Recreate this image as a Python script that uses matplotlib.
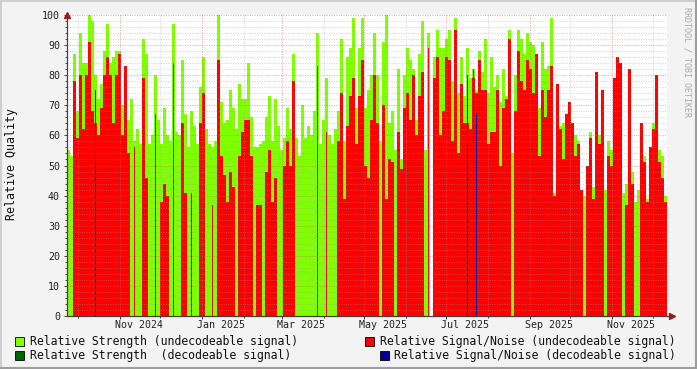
"""
rrdtool style chart of relative signal quality
"""
from datetime import datetime

import matplotlib
matplotlib.use("Agg")
import matplotlib.dates as mdates
import matplotlib.pyplot as plt
import matplotlib.transforms as mtransforms
import numpy as np
from matplotlib.lines import Line2D
from matplotlib.patches import Rectangle
from matplotlib.ticker import MultipleLocator, NullFormatter

# relative strength / signal-noise of undecodeable signal, one value per slot
strength = [
    55, 53, 87, 68, 94, 84, 84, 100, 98, 80, 72, 77, 88, 97, 84, 86, 88, 88, 70, 75,
    65, 72, 58, 62, 57, 92, 87, 57, 60, 80, 65, 57, 69, 60, 58, 97, 61, 60, 85, 67,
    56, 68, 63, 57, 76, 86, 62, 57, 56, 58, 100, 71, 64, 65, 75, 69, 62, 77, 72, 72,
    84, 66, 56, 56, 57, 58, 66, 73, 58, 72, 63, 55, 59, 69, 62, 87, 59, 53, 70, 59,
    63, 60, 68, 94, 57, 65, 79, 60, 57, 62, 68, 92, 58, 86, 89, 99, 69, 89, 99, 69,
    75, 80, 94, 80, 58, 91, 100, 64, 68, 55, 82, 52, 80, 89, 85, 82, 65, 87, 98, 55,
    94, 0, 86, 95, 89, 89, 92, 95, 78, 99, 74, 86, 73, 89, 79, 82, 75, 88, 81, 92,
    74, 86, 76, 80, 71, 82, 73, 95, 54, 80, 95, 92, 87, 94, 91, 90, 80, 69, 91, 82,
    83, 99, 41, 42, 63, 64, 58, 52, 61, 60, 58, 40, 40, 44, 61, 43, 65, 60, 62, 42,
    58, 55, 44, 44, 58, 41, 44, 44, 48, 38, 42, 38, 53, 39, 44, 64, 38, 55, 53, 40,
]
snr = [
    0, 0, 78, 59, 80, 62, 80, 91, 68, 64, 60, 69, 80, 86, 80, 64, 80, 87, 60, 83,
    54, 0, 56, 0, 0, 79, 46, 0, 0, 67, 0, 38, 44, 40, 0, 84, 0, 0, 64, 41,
    0, 41, 0, 0, 64, 74, 0, 0, 37, 0, 85, 53, 47, 38, 48, 43, 0, 53, 61, 65,
    65, 53, 0, 37, 37, 0, 48, 55, 38, 46, 0, 0, 50, 58, 50, 78, 0, 0, 0, 0,
    0, 0, 0, 83, 0, 0, 61, 0, 0, 0, 58, 74, 39, 63, 73, 79, 57, 73, 85, 50,
    46, 65, 80, 64, 0, 70, 39, 52, 51, 0, 61, 49, 69, 74, 65, 80, 60, 73, 81, 0,
    89, 0, 79, 86, 60, 68, 86, 85, 58, 95, 54, 77, 64, 64, 62, 79, 74, 85, 75, 75,
    57, 61, 61, 75, 50, 69, 72, 92, 0, 68, 88, 78, 75, 85, 82, 74, 87, 53, 75, 66,
    75, 83, 40, 77, 62, 52, 67, 71, 64, 53, 57, 42, 0, 50, 59, 39, 81, 57, 75, 0,
    53, 50, 79, 86, 84, 0, 37, 82, 44, 0, 0, 64, 51, 38, 56, 62, 80, 51, 46, 38,
]

# decodeable signal (only a few slots)
dec_slots = [9, 133, 135, 136]
dec_strength = [75, 80, 82, 0]
dec_snr = [51, 57, 0, 67]

tick_labels = ["Nov 2024", "Jan 2025", "Mar 2025", "May 2025",
               "Jul 2025", "Sep 2025", "Nov 2025"]
tick_dates = [datetime(2024, 11, 1), datetime(2025, 1, 1), datetime(2025, 3, 1),
              datetime(2025, 5, 1), datetime(2025, 7, 1), datetime(2025, 9, 1),
              datetime(2025, 11, 1)]

legend_items = [
    ("Relative Strength (undecodeable signal)", "#7fff00"),
    ("Relative Signal/Noise (undecodeable signal)", "#ff0000"),
    ("Relative Strength  (decodeable signal)", "#006400"),
    ("Relative Signal/Noise (decodeable signal)", "#000099"),
]

W, H = 697, 369
START = datetime(2024, 9, 22, 16)
SPAN_DAYS = 445.0

plt.rcParams["font.family"] = ["DejaVu Sans Mono"]

fig = plt.figure(figsize=(W / 100, H / 100), dpi=100, facecolor="#f3f3f3")
ax = fig.add_axes([67 / W, 1 - 316 / H, 600 / W, 301 / H])
ax.set_facecolor("white")

slot = SPAN_DAYS / len(strength)
x0 = mdates.date2num(START) + np.arange(len(strength)) * slot

# isolated red spikes are thin in the original, runs of red are solid
red = np.array(snr)
prev_red = np.r_[0, red[:-1]]
next_red = np.r_[red[1:], 0]
lone = (prev_red == 0) & (next_red == 0)
red_w = np.where(lone, slot / 2, slot)
red_x = x0 + (slot - red_w) / 2

# Draw Plot
ax.bar(x0, strength, width=slot, align="edge", color="#7fff00",
       linewidth=0, antialiased=False, zorder=1)
ax.bar(red_x, snr, width=red_w, align="edge", color="#ff0000",
       linewidth=0, antialiased=False, zorder=1.1)
dx = x0[dec_slots] + slot / 3
ax.bar(dx, dec_strength, width=slot / 3, align="edge", color="#006400",
       linewidth=0, antialiased=False, zorder=1.2)
ax.bar(dx, dec_snr, width=slot / 3, align="edge", color="#000099",
       linewidth=0, antialiased=False, zorder=1.3)

ax.set_xlim(mdates.date2num(START), mdates.date2num(START) + SPAN_DAYS)
ax.set_ylim(0, 100)

# Decoration
ax.yaxis.set_major_locator(MultipleLocator(10))
ax.yaxis.set_minor_locator(MultipleLocator(2))
ax.xaxis.set_major_locator(mdates.MonthLocator(bymonth=[1, 3, 5, 7, 9, 11]))
ax.xaxis.set_minor_locator(mdates.MonthLocator())
ax.xaxis.set_major_formatter(NullFormatter())

ax.set_axisbelow(False)
dots = (0, (1.0, 1.4))
ax.grid(which="minor", color="#a0a0a0", alpha=0.45, linestyle=dots, linewidth=0.72)
ax.grid(which="major", color="#d06060", alpha=0.55, linestyle=dots, linewidth=0.72)

for side in ("top", "right"):
    ax.spines[side].set_visible(False)
for side in ("left", "bottom"):
    ax.spines[side].set_color("#404040")
    ax.spines[side].set_linewidth(0.9)
ax.tick_params(which="both", direction="out", color="#404040", width=0.7)
ax.tick_params(which="major", length=2.5, pad=2.5, labelsize=7.2, labelcolor="#222222")
ax.tick_params(which="minor", length=1.2)

trans = mtransforms.blended_transform_factory(ax.transData, ax.transAxes)
for label, date in zip(tick_labels, tick_dates):
    mid = mdates.date2num(date) + 14
    ax.text(mid, -9 / 301, label, transform=trans, ha="center", va="center",
            fontsize=7.2, color="#222222")

# axis arrows
ax.plot([0], [1.0], transform=ax.transAxes, marker="^", markersize=4,
        color="#902020", clip_on=False, zorder=5)
ax.plot([1.0 + 5 / 600], [0], transform=ax.transAxes, marker=">",
        markersize=4, color="#902020", clip_on=False, zorder=5)
ax.plot([1.0, 1.0 + 5 / 600], [0, 0], transform=ax.transAxes, color="#404040",
        linewidth=0.9, clip_on=False)

fig.text(12 / W, 1 - 164 / H, "Relative Quality", rotation=90, ha="center",
         va="center", fontsize=8.4, color="#111111")
fig.text(687 / W, 1 - 62 / H, "RRDTOOL / TOBI OETIKER", rotation=270,
         ha="center", va="center", fontsize=6, color="#aaaaaa")

# legend
positions = [(15, 30, 341), (365, 380, 341), (15, 30, 355), (380, 394, 355)]
for (label, color), (sx, tx, ty) in zip(legend_items, positions):
    fig.add_artist(Rectangle((sx / W, 1 - (ty + 4.5) / H), 9 / W, 9 / H,
                             transform=fig.transFigure, facecolor=color,
                             edgecolor="black", linewidth=0.6))
    fig.text(tx / W, 1 - ty / H, label, ha="left", va="center",
             fontsize=8.3, color="#111111")

# shaded border
fig.add_artist(Line2D([0, 1], [1 - 1 / H, 1 - 1 / H], transform=fig.transFigure,
                      color="#cfcfcf", linewidth=1.5))
fig.add_artist(Line2D([1 / W, 1 / W], [0, 1], transform=fig.transFigure,
                      color="#cfcfcf", linewidth=1.5))
fig.add_artist(Line2D([0, 1], [1 / H, 1 / H], transform=fig.transFigure,
                      color="#9e9e9e", linewidth=1.5))
fig.add_artist(Line2D([1 - 1 / W, 1 - 1 / W], [0, 1], transform=fig.transFigure,
                      color="#9e9e9e", linewidth=1.5))

fig.savefig("out.png", dpi=100, facecolor=fig.get_facecolor())
